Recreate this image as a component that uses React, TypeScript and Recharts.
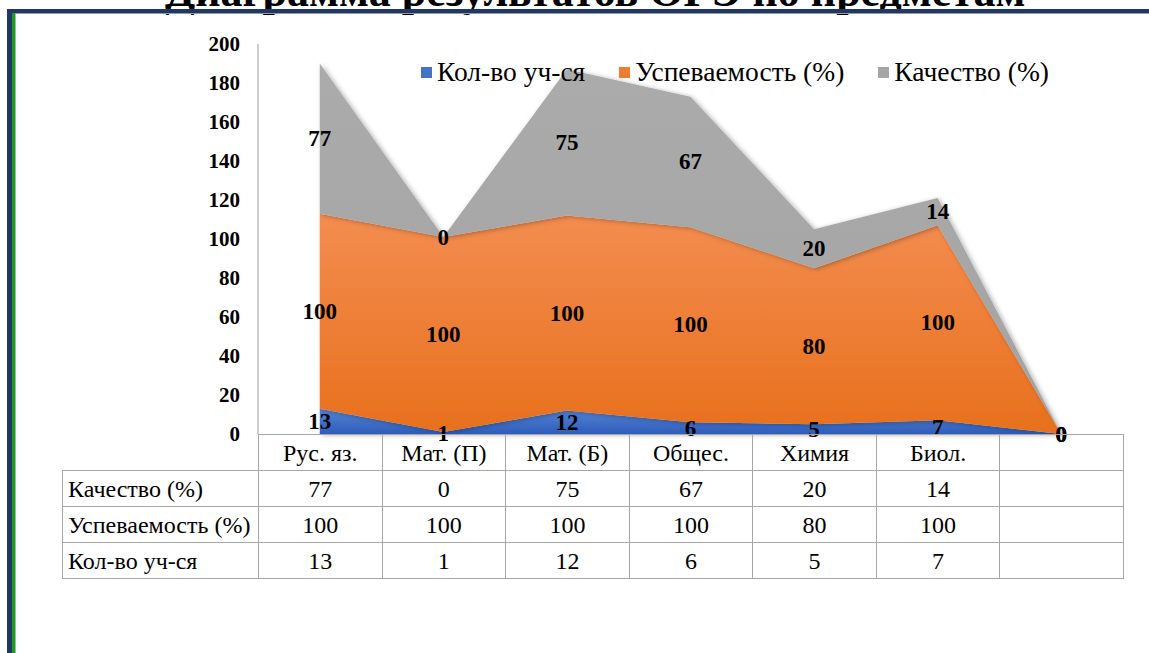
import React from "react";
import { AreaChart, Area, XAxis, YAxis, Legend, LabelList } from "recharts";

const categories = ["Рус. яз.", "Мат. (П)", "Мат. (Б)", "Общес.", "Химия", "Биол.", ""];
const students = [13, 1, 12, 6, 5, 7, 0];
const passRate = [100, 100, 100, 100, 80, 100, 0];
const quality = [77, 0, 75, 67, 20, 14, 0];
const yTicks = [0, 20, 40, 60, 80, 100, 120, 140, 160, 180, 200];

const series = [
  { key: "kol", name: "Кол-во уч-ся", swatch: "#4472c4", grad: "gBlue", values: students },
  { key: "usp", name: "Успеваемость (%)", swatch: "#ed7d31", grad: "gOrange", values: passRate },
  { key: "kach", name: "Качество (%)", swatch: "#a5a5a5", grad: "gGray", values: quality },
];
// table rows go top-down in the reverse order
const tableRows = [...series].reverse();

const data = categories.map((name, i) => ({
  name,
  kol: students[i],
  usp: passRate[i],
  kach: quality[i],
}));

const W = 1149;
const H = 653;
const PLOT_LEFT = 258;
const PLOT_TOP = 44;
const PLOT_BOTTOM = 434;
const PLOT_RIGHT = 1123;
const Y_MAX = 200;
const PX_PER_UNIT = (PLOT_BOTTOM - PLOT_TOP) / Y_MAX;
const COL_W = (PLOT_RIGHT - PLOT_LEFT) / categories.length;

const serif = "Liberation Serif, Times New Roman, serif";

const MidLabel = (props: any) => {
  const { x, y, value } = props;
  if (x == null || y == null) return null;
  return (
    <text
      x={x}
      y={y + (value * PX_PER_UNIT) / 2}
      textAnchor="middle"
      dominantBaseline="central"
      fontFamily={serif}
      fontWeight={700}
      fontSize={23}
      fill="#000"
    >
      {value}
    </text>
  );
};

const LegendContent = () => (
  <div style={{ display: "flex", fontFamily: serif, fontSize: 27.5, color: "#000", whiteSpace: "nowrap" }}>
    {series.map((s) => (
      <div key={s.key} style={{ display: "flex", alignItems: "center", marginRight: 34 }}>
        <span style={{ display: "inline-block", width: 11, height: 11, background: s.swatch, marginRight: 5 }} />
        <span>{s.name}</span>
      </div>
    ))}
  </div>
);

const cellBorder = "1px solid #a6a6a6";

export default function App() {
  return (
    <div style={{ position: "absolute", left: 0, top: 0, width: W, height: H, background: "#fff", overflow: "hidden" }}>
      {/* cut-off title */}
      <div
        style={{
          position: "absolute",
          left: 165,
          top: -30,
          fontFamily: serif,
          fontWeight: 700,
          fontSize: 44,
          lineHeight: "44px",
          whiteSpace: "nowrap",
          color: "#000",
        }}
      >
        Диаграмма результатов ОГЭ по предметам
      </div>
      {/* page frame */}
      <div style={{ position: "absolute", left: 7, top: 9, width: W - 7, height: 4, background: "#1f3864" }} />
      <div style={{ position: "absolute", left: 15, top: 13, width: W - 15, height: 1, background: "#9a9a9a" }} />
      <div style={{ position: "absolute", left: 7, top: 9, width: 5, height: H - 9, background: "#1f3864" }} />
      <div style={{ position: "absolute", left: 12, top: 13, width: 3, height: H - 13, background: "#17a21b" }} />
      <div style={{ position: "absolute", left: 15, top: 14, width: 1, height: H - 14, background: "#b0b0b0" }} />

      <div style={{ position: "absolute", left: 0, top: 0 }}>
        <AreaChart
          width={W}
          height={H}
          data={data}
          margin={{ top: PLOT_TOP, right: W - PLOT_RIGHT, bottom: H - PLOT_BOTTOM, left: PLOT_LEFT - 70 }}
        >
          <defs>
            <linearGradient id="gBlue" x1="0" y1="0" x2="0" y2="1">
              <stop offset="0%" stopColor="#5584d6" />
              <stop offset="100%" stopColor="#2f5dba" />
            </linearGradient>
            <linearGradient id="gOrange" x1="0" y1="0" x2="0" y2="1">
              <stop offset="0%" stopColor="#f38d50" />
              <stop offset="100%" stopColor="#e8701c" />
            </linearGradient>
            <linearGradient id="gGray" x1="0" y1="0" x2="0" y2="1">
              <stop offset="0%" stopColor="#ababab" />
              <stop offset="100%" stopColor="#a3a3a3" />
            </linearGradient>
            <filter id="softShadow" x="-10%" y="-10%" width="130%" height="130%">
              <feDropShadow dx="2" dy="1" stdDeviation="2.5" floodColor="#000" floodOpacity="0.3" />
            </filter>
          </defs>
          <XAxis dataKey="name" hide padding={{ left: COL_W / 2, right: COL_W / 2 }} />
          <YAxis
            width={70}
            domain={[0, Y_MAX]}
            ticks={yTicks}
            interval={0}
            tickLine={false}
            axisLine={{ stroke: "#bfbfbf", strokeWidth: 1.5 }}
            tickMargin={12}
            tick={{ fill: "#000", fontSize: 21, fontWeight: 700, fontFamily: serif }}
          />
          {series.map((s) => (
            <Area
              key={s.key}
              type="linear"
              dataKey={s.key}
              name={s.name}
              stackId="1"
              stroke="none"
              fill={`url(#${s.grad})`}
              fillOpacity={1}
              filter="url(#softShadow)"
              isAnimationActive={false}
            >
              <LabelList dataKey={s.key} content={<MidLabel />} />
            </Area>
          ))}
          <Legend
            layout="horizontal"
            verticalAlign="middle"
            align="center"
            content={<LegendContent />}
            wrapperStyle={{ top: 56, left: 421, width: "auto" }}
          />
        </AreaChart>
      </div>

      {/* data table */}
      <table
        style={{
          position: "absolute",
          left: 62,
          top: PLOT_BOTTOM,
          borderCollapse: "collapse",
          tableLayout: "fixed",
          fontFamily: serif,
          fontSize: 24,
          color: "#000",
        }}
      >
        <colgroup>
          <col style={{ width: PLOT_LEFT - 62 }} />
          {categories.map((c, i) => (
            <col key={i} style={{ width: COL_W }} />
          ))}
        </colgroup>
        <tbody>
          <tr style={{ height: 36 }}>
            <td style={{ padding: 0 }} />
            {categories.map((c, i) => (
              <td key={i} style={{ border: cellBorder, textAlign: "center", padding: 0, lineHeight: "26px" }}>
                {c}
              </td>
            ))}
          </tr>
          {tableRows.map((r) => (
            <tr key={r.key} style={{ height: 36 }}>
              <td style={{ border: cellBorder, padding: "0 0 0 5px", whiteSpace: "nowrap", lineHeight: "26px" }}>
                {r.name}
              </td>
              {categories.map((c, i) => (
                <td key={i} style={{ border: cellBorder, textAlign: "center", padding: 0, lineHeight: "26px" }}>
                  {c === "" ? "" : r.values[i]}
                </td>
              ))}
            </tr>
          ))}
        </tbody>
      </table>
    </div>
  );
}
